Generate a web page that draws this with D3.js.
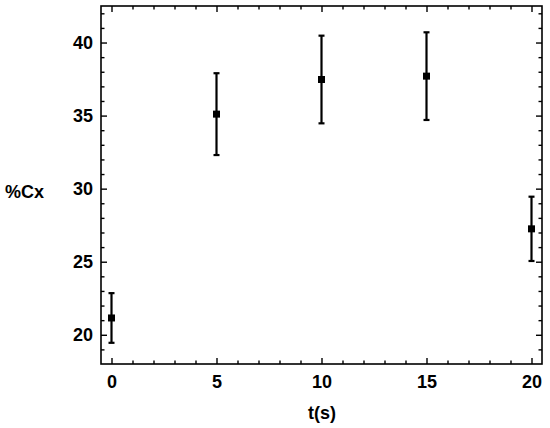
<!DOCTYPE html>
<html><head><meta charset="utf-8">
<script src="https://cdn.jsdelivr.net/npm/d3@7"></script>
<style>body{margin:0;background:#fff}svg{display:block}text{font-family:"Liberation Sans",Arial,sans-serif;font-weight:bold;fill:#000}</style>
</head><body>
<svg id="c" width="550" height="428"></svg>
<script>
const times = [0, 5, 10, 15, 20];
const values = [21.15, 35.1, 37.47, 37.7, 27.25];
const errors = [1.7, 2.8, 3.0, 3.0, 2.2];
const xTicks = [0, 5, 10, 15, 20];
const yTicks = [20, 25, 30, 35, 40];
const xLabel = "t(s)";
const yLabel = "%Cx";

const svg = d3.select("#c");
const L = 101, R = 542, T = 6, B = 364;
const x = d3.scaleLinear().domain([-0.5, 20.5]).range([L, R]);
const y = d3.scaleLinear().domain([18, 42.5]).range([B, T]);
const FS = "18px";

const g = svg.append("g");
g.append("rect").attr("x", L).attr("y", T).attr("width", R - L).attr("height", B - T)
  .attr("fill", "none").attr("stroke", "#000").attr("stroke-width", 1.6);

const xMinor = d3.range(0, 21, 1).filter(v => !xTicks.includes(v));
const yMinor = d3.range(19, 43, 1).filter(v => !yTicks.includes(v));
const big = 6, small = 3.5, tw = 1.4;
const clean = s => { s.select(".domain").remove(); s.selectAll("line").attr("stroke-width", tw); };

// bottom axis
const ax = g.append("g").attr("transform", `translate(0,${B})`)
  .call(d3.axisBottom(x).tickValues(xTicks).tickSizeInner(-big).tickSizeOuter(0).tickPadding(11).tickFormat(d3.format("d")))
  .call(clean);
ax.selectAll("text").style("font-size", FS).style("font-family", "Liberation Sans, Arial, sans-serif").style("font-weight", "bold");
g.append("g").attr("transform", `translate(0,${B})`).call(d3.axisBottom(x).tickValues(xMinor).tickSizeInner(-small).tickSizeOuter(0).tickFormat("")).call(clean);
// top axis
g.append("g").attr("transform", `translate(0,${T})`).call(d3.axisTop(x).tickValues(xTicks).tickSizeInner(-big).tickSizeOuter(0).tickFormat("")).call(clean);
g.append("g").attr("transform", `translate(0,${T})`).call(d3.axisTop(x).tickValues(xMinor).tickSizeInner(-small).tickSizeOuter(0).tickFormat("")).call(clean);
// left axis
const ay = g.append("g").attr("transform", `translate(${L},0)`)
  .call(d3.axisLeft(y).tickValues(yTicks).tickSizeInner(-big).tickSizeOuter(0).tickPadding(8).tickFormat(d3.format("d")))
  .call(clean);
ay.selectAll("text").style("font-size", FS).style("font-family", "Liberation Sans, Arial, sans-serif").style("font-weight", "bold");
g.append("g").attr("transform", `translate(${L},0)`).call(d3.axisLeft(y).tickValues(yMinor).tickSizeInner(-small).tickSizeOuter(0).tickFormat("")).call(clean);
// right axis
g.append("g").attr("transform", `translate(${R},0)`).call(d3.axisRight(y).tickValues(yTicks).tickSizeInner(-big).tickSizeOuter(0).tickFormat("")).call(clean);
g.append("g").attr("transform", `translate(${R},0)`).call(d3.axisRight(y).tickValues(yMinor).tickSizeInner(-small).tickSizeOuter(0).tickFormat("")).call(clean);

// data
const data = times.map((t, i) => ({ t, v: values[i], e: errors[i] }));
const eb = g.append("g").attr("stroke", "#000").attr("stroke-width", 2.2);
const cap = 3;
data.forEach(d => {
  eb.append("line").attr("x1", x(d.t)).attr("x2", x(d.t)).attr("y1", y(d.v + d.e)).attr("y2", y(d.v - d.e));
  eb.append("line").attr("x1", x(d.t) - cap).attr("x2", x(d.t) + cap).attr("y1", y(d.v + d.e)).attr("y2", y(d.v + d.e));
  eb.append("line").attr("x1", x(d.t) - cap).attr("x2", x(d.t) + cap).attr("y1", y(d.v - d.e)).attr("y2", y(d.v - d.e));
});
const ms = 7;
g.append("g").selectAll("rect").data(data).join("rect")
  .attr("x", d => x(d.t) - ms / 2).attr("y", d => y(d.v) - ms / 2)
  .attr("width", ms).attr("height", ms).attr("fill", "#000");

// axis titles
svg.append("text").attr("x", 322).attr("y", 419).attr("text-anchor", "middle").style("font-size", FS).text(xLabel);
svg.append("text").attr("x", 5).attr("y", 198).attr("text-anchor", "start").style("font-size", FS).text(yLabel);
</script>
</body></html>
